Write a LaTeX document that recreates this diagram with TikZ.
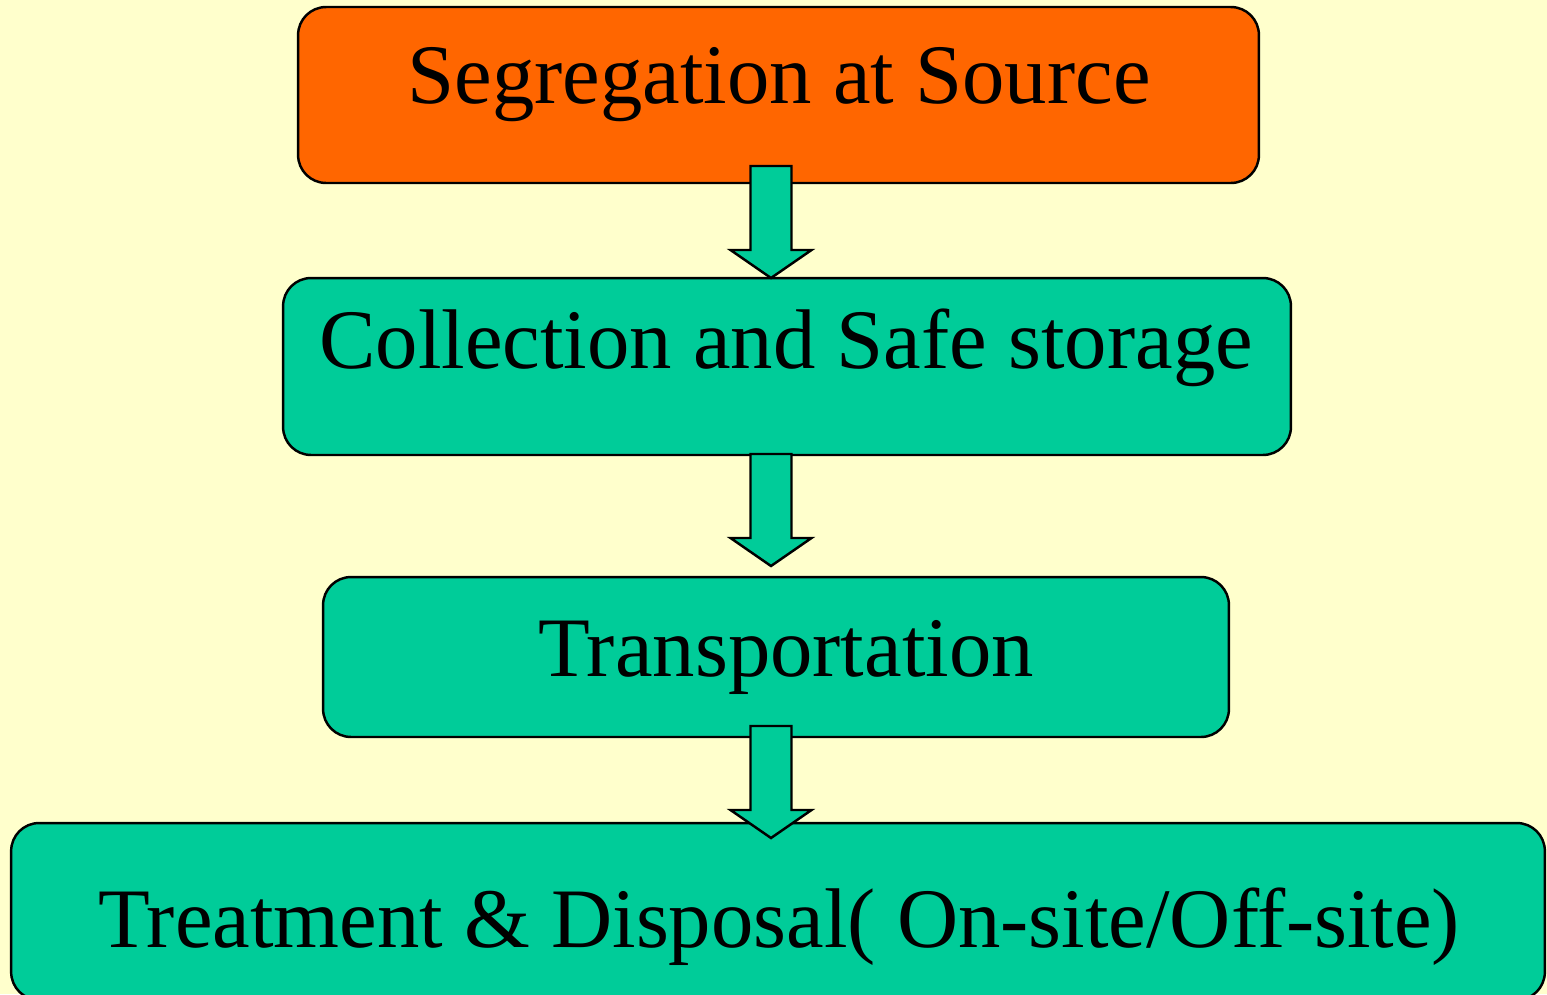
\documentclass[tikz,border=0pt]{standalone}
\usepackage{fontspec}
\setmainfont{Liberation Serif}
\usetikzlibrary{positioning}

\definecolor{paper}{HTML}{FFFFCC}
\definecolor{orangebox}{HTML}{FF6600}
\definecolor{tealbox}{HTML}{00CC99}

\begin{document}
\begin{tikzpicture}[x=0.02cm,y=-0.02cm,line width=1.4pt,
                    stage/.style={draw,fill=tealbox,rounded corners=0.56cm,inner sep=0pt},
                    caption/.style={anchor=base,inner sep=0pt,font=\fontsize{48.2}{56}\selectfont},
                    flowarrow/.style={draw,fill=tealbox,line join=miter}]

  \useasboundingbox (0,0) rectangle (1547,994);
  \fill[paper] (0,0) rectangle (1547,994);
  \clip (0,0) rectangle (1547,994);

  % boxes
  \node[stage,fill=orangebox,minimum width=19.22cm,minimum height=3.52cm] (seg) at (778.5,95) {};
  \node[stage,minimum width=20.16cm,minimum height=3.54cm] (coll) at (787,366.5) {};
  \node[stage,minimum width=18.12cm,minimum height=3.2cm] (trans) at (776,657) {};
  \node[stage,minimum width=30.68cm,minimum height=3.54cm] (treat) at (778,911.5) {};

  % labels
  \node[caption] (segtxt) at (779,103) {Segregation at Source};
  \node[caption] (colltxt) at (786,368) {Collection and Safe storage};
  \node[caption] (transtxt) at (786,676) {Transportation};
  \node[caption] (treattxt) at (779,947) {Treatment \& Disposal( On-site/Off-site)};

  % block arrows between the stages
  \foreach \from/\top in {seg/166,coll/454,trans/726}
    \draw[flowarrow] (771,\top) coordinate (\from-out) -- ++(20.5,0) -- ++(0,84) -- ++(20,0)
      -- ++(-40.5,28) -- ++(-40.5,-28) -- ++(20,0) -- ++(0,-84) -- cycle;
\end{tikzpicture}
\end{document}
